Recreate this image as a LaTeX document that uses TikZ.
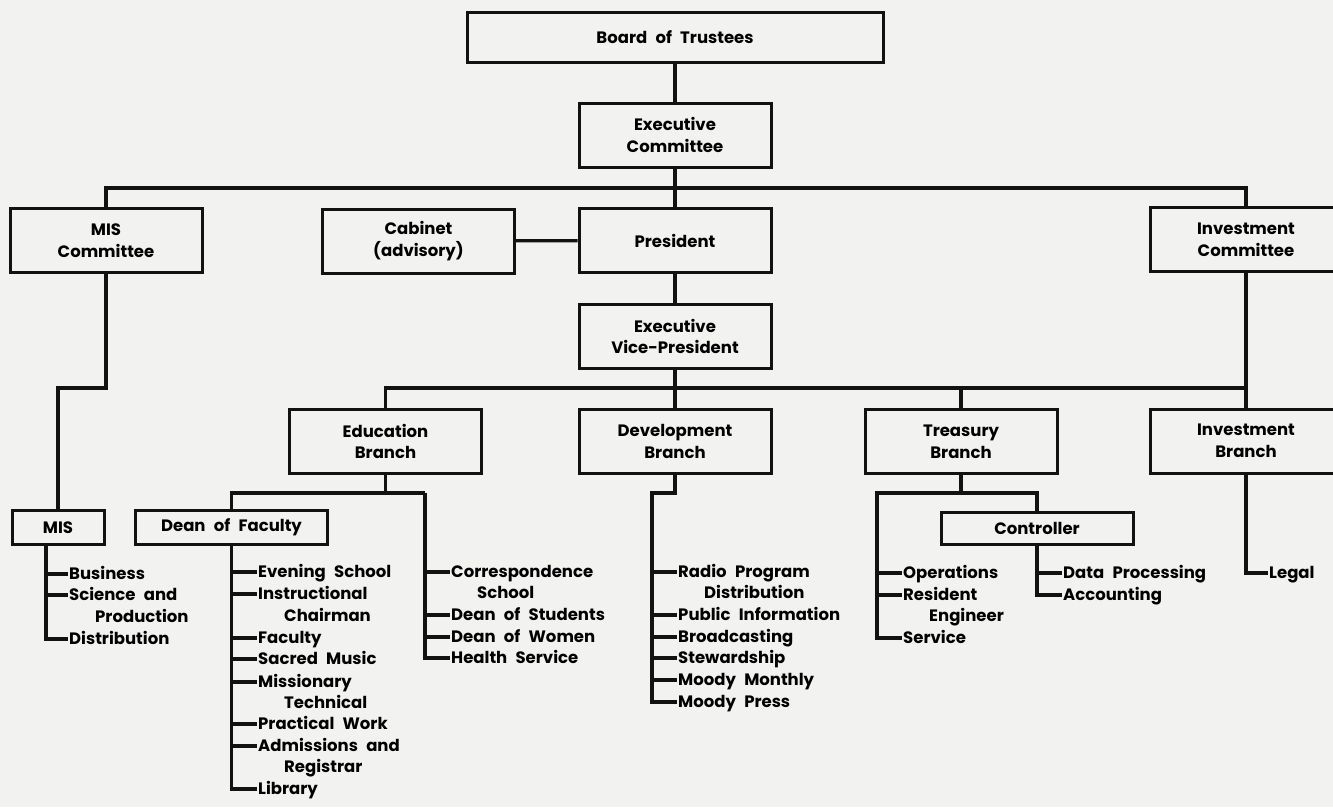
\documentclass[tikz,border=0pt]{standalone}
\usepackage{fontspec}
\setmainfont{Poppins}
\usetikzlibrary{positioning}
\definecolor{paper}{RGB}{242,242,240}
\definecolor{ink}{RGB}{18,18,18}
\newcommand{\chartfont}{\fontsize{16.5}{21.6}\selectfont\bfseries\spaceskip=0.5em plus 0.1em}
\tikzset{
    box/.style={draw=ink, line width=3pt, minimum width=192pt, minimum height=64pt, align=center, inner sep=0pt},
    smallbox/.style={box, minimum height=34pt},
    leaf/.style={anchor=west, inner sep=1pt, text height=11.5pt, text depth=0pt},
    conn/.style={draw=ink, line width=3.2pt}
}

\begin{document}
\begin{tikzpicture}[x=1pt, y=-1pt, font=\chartfont]

            \useasboundingbox (0,0) rectangle (1333,807);
            \clip (0,0) rectangle (1333,807);
            \fill[paper] (0,0) rectangle (1333,807);

            \node[box, minimum width=416pt, minimum height=50pt] (board) at (675,37) {Board of Trustees};
            \node[box] (exec) at (675,135) {Executive\\Committee};
            \node[box] (miscom) at (106,240.5) {MIS\\Committee};
            \node[box] (cabinet) at (418.5,241) {Cabinet\\(advisory)};
            \node[box] (pres) at (675,240.5) {President};
            \node[box] (invcom) at (1246,239.5) {Investment\\Committee};
            \node[box] (evp) at (675,336.5) {Executive\\Vice-President};
            \node[box] (edu) at (385.5,441.5) {Education\\Branch};
            \node[box] (dev) at (675,441.5) {Development\\Branch};
            \node[box] (treas) at (961,441.5) {Treasury\\Branch};
            \node[box] (invbr) at (1246,441) {Investment\\Branch};
            \node[smallbox, minimum width=92pt] (mis) at (58,527.5) {MIS};
            \node[smallbox] (dean) at (231.5,527.5) {Dean of Faculty};
            \node[smallbox, minimum height=32pt] (ctrl) at (1037,528) {Controller};

            \coordinate (bus1) at (675,188);
            \coordinate (bus2) at (675,388);
            \coordinate (misjog) at (106,388);
            \coordinate (misspine) at (46,545);
            \coordinate (edujog) at (425,493);
            \coordinate (devspine) at (652,493);
            \coordinate (trespine) at (877,493);

            \draw[conn] (board) -- (exec);
            \draw[conn] (exec) -- (pres);
            \draw[conn] (miscom.north) |- (bus1) -| (invcom.north);
            \draw[conn] (cabinet) -- (pres);
            \draw[conn] (pres) -- (evp);
            \draw[conn] (evp) -- (dev);
            \draw[conn] (edu.north) |- (bus2) -| (invbr.north);
            \draw[conn] (treas.north) -- (treas.north |- bus2);
            \draw[conn] (invcom) -- (invbr);
            \draw[conn] (miscom.south) -- (misjog) -| (mis.north);

            \node[leaf] (busi) at (68,574) {Business};
            \node[leaf] (sci) at (68,595) {Science and};
            \node[leaf] (sci2) at (94,617) {Production};
            \node[leaf] (distrib) at (68,639) {Distribution};

            \draw[conn] (misspine) |- (distrib.west);
            \draw[conn] (misspine |- busi.west) -- (busi.west);
            \draw[conn] (misspine |- sci.west) -- (sci.west);

            \node[leaf] (evening) at (257,572) {Evening School};
            \node[leaf] (instr) at (257,594) {Instructional};
            \node[leaf] (instr2) at (283,616) {Chairman};
            \node[leaf] (faculty) at (257,638) {Faculty};
            \node[leaf] (sacred) at (257,659) {Sacred Music};
            \node[leaf] (mission) at (257,682) {Missionary};
            \node[leaf] (mission2) at (283,703) {Technical};
            \node[leaf] (practical) at (257,724) {Practical Work};
            \node[leaf] (admis) at (257,746) {Admissions and};
            \node[leaf] (admis2) at (283,767) {Registrar};
            \node[leaf] (library) at (257,789) {Library};

            \draw[conn] (edu.south) -- (edu.south |- edujog);
            \draw[conn] (dean.north) |- (edujog);
            \draw[conn] (dean.south) |- (library.west);
            \draw[conn] (dean.south |- evening.west) -- (evening.west);
            \draw[conn] (dean.south |- instr.west) -- (instr.west);
            \draw[conn] (dean.south |- faculty.west) -- (faculty.west);
            \draw[conn] (dean.south |- sacred.west) -- (sacred.west);
            \draw[conn] (dean.south |- mission.west) -- (mission.west);
            \draw[conn] (dean.south |- practical.west) -- (practical.west);
            \draw[conn] (dean.south |- admis.west) -- (admis.west);

            \node[leaf] (corr) at (450,572) {Correspondence};
            \node[leaf] (corr2) at (476,593) {School};
            \node[leaf] (dstud) at (450,615) {Dean of Students};
            \node[leaf] (dwomen) at (450,637) {Dean of Women};
            \node[leaf] (health) at (450,658) {Health Service};

            \draw[conn] (edujog) |- (health.west);
            \draw[conn] (edujog |- corr.west) -- (corr.west);
            \draw[conn] (edujog |- dstud.west) -- (dstud.west);
            \draw[conn] (edujog |- dwomen.west) -- (dwomen.west);

            \node[leaf] (radio) at (677,572) {Radio Program};
            \node[leaf] (radio2) at (703,593) {Distribution};
            \node[leaf] (pubinfo) at (677,615) {Public Information};
            \node[leaf] (broad) at (677,637) {Broadcasting};
            \node[leaf] (steward) at (677,658) {Stewardship};
            \node[leaf] (monthly) at (677,680) {Moody Monthly};
            \node[leaf] (press) at (677,702) {Moody Press};

            \draw[conn] (dev.south) |- (devspine) |- (press.west);
            \draw[conn] (devspine |- radio.west) -- (radio.west);
            \draw[conn] (devspine |- pubinfo.west) -- (pubinfo.west);
            \draw[conn] (devspine |- broad.west) -- (broad.west);
            \draw[conn] (devspine |- steward.west) -- (steward.west);
            \draw[conn] (devspine |- monthly.west) -- (monthly.west);

            \node[leaf] (oper) at (902,573) {Operations};
            \node[leaf] (resid) at (902,595) {Resident};
            \node[leaf] (resid2) at (928,616) {Engineer};
            \node[leaf] (service) at (902,638) {Service};

            \draw[conn] (treas.south) -- (treas.south |- trespine);
            \draw[conn] (ctrl.north) |- (trespine) |- (service.west);
            \draw[conn] (trespine |- oper.west) -- (oper.west);
            \draw[conn] (trespine |- resid.west) -- (resid.west);

            \node[leaf] (data) at (1062,573) {Data Processing};
            \node[leaf] (acct) at (1062,595) {Accounting};

            \draw[conn] (ctrl.south) |- (acct.west);
            \draw[conn] (ctrl.south |- data.west) -- (data.west);

            \node[leaf] (legal) at (1268,573) {Legal};

            \draw[conn] (invbr.south) |- (legal.west);

\end{tikzpicture}
\end{document}
